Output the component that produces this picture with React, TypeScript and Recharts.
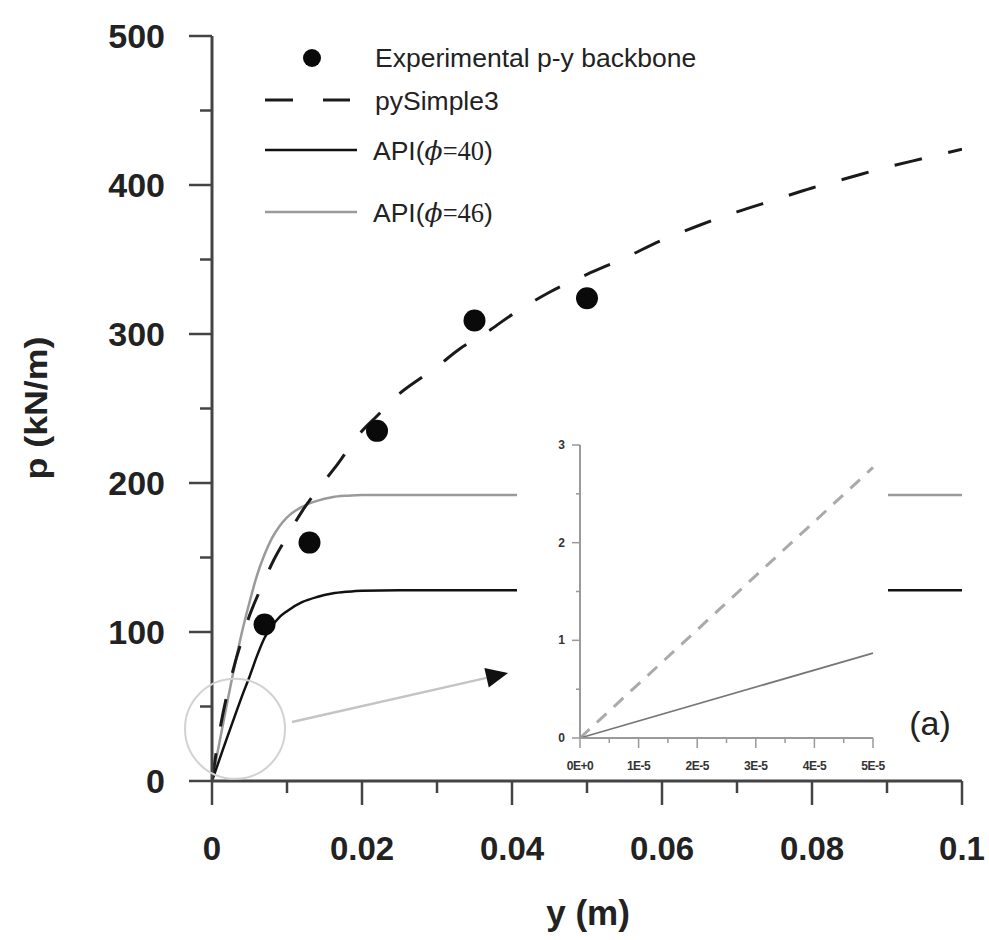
import React from 'react';
import {
  ComposedChart,
  LineChart,
  Line,
  Scatter,
  XAxis,
  YAxis,
  ReferenceDot,
  ReferenceLine,
} from 'recharts';

const FONT = '"Liberation Sans", Arial, Helvetica, sans-serif';

// ---- data ----
const expDisp = [0.007, 0.013, 0.022, 0.035, 0.05];
const expLoad = [105, 160, 235, 309, 324];

const simpleDisp = [0, 0.001, 0.002, 0.003, 0.004, 0.005, 0.0064, 0.0082, 0.01, 0.012, 0.014, 0.0168, 0.0195, 0.022, 0.025, 0.028, 0.03, 0.033, 0.036, 0.04, 0.045, 0.05, 0.055, 0.06, 0.065, 0.07, 0.075, 0.08, 0.085, 0.09, 0.095, 0.1];
const simpleLoad = [0, 33, 58, 78, 95, 111, 128, 148, 164, 181, 195, 213, 232, 245, 260, 271, 278, 290, 299, 313, 328, 340, 351, 363, 373, 382, 390, 398, 405, 412, 418, 424];

const api40Disp = [0, 0.001, 0.002, 0.003, 0.004, 0.005, 0.006, 0.007, 0.008, 0.009, 0.01, 0.012, 0.014, 0.016, 0.018, 0.02, 0.025, 0.03, 0.04, 0.05, 0.06, 0.07, 0.08, 0.09, 0.1];
const api40Load = [0, 14.5, 29, 43, 57, 70, 84, 96, 104, 110, 114, 120, 123.5, 125.8, 127, 127.7, 128, 128, 128, 128, 128, 128, 128, 128, 128];

const api46Disp = [0, 0.001, 0.002, 0.003, 0.004, 0.005, 0.006, 0.007, 0.008, 0.009, 0.01, 0.012, 0.014, 0.016, 0.018, 0.02, 0.025, 0.03, 0.04, 0.05, 0.06, 0.07, 0.08, 0.09, 0.1];
const api46Load = [0, 26, 52, 77, 100, 120, 138, 152, 163, 171, 177, 184, 188, 190.5, 191.5, 192, 192, 192, 192, 192, 192, 192, 192, 192, 192];

const insetDisp = [0, 0.00005];
const insetDashedLoad = [0, 2.77];
const insetSolidLoad = [0, 0.87];

const xTicks = [0, 0.01, 0.02, 0.03, 0.04, 0.05, 0.06, 0.07, 0.08, 0.09, 0.1];
const xTickLabels = ['0', '0.02', '0.04', '0.06', '0.08', '0.1'];
const yTicks = [0, 50, 100, 150, 200, 250, 300, 350, 400, 450, 500];

const insetXTicks = [0, 0.000005, 0.00001, 0.000015, 0.00002, 0.000025, 0.00003, 0.000035, 0.00004, 0.000045, 0.00005];
const insetXTickLabels = ['0E+0', '1E-5', '2E-5', '3E-5', '4E-5', '5E-5'];
const insetYTicks = [0, 0.5, 1, 1.5, 2, 2.5, 3];
const insetYTickLabels = ['0', '1', '2', '3'];

const legendItems = ['Experimental p-y backbone', 'pySimple3', 'API', 'API'];

// annotation positions (data coordinates)
const circleCenter = { y: 0.00307, p: 35 };
const arrowFrom = { y: 0.01067, p: 39.6 };
const arrowTo = { y: 0.03947, p: 72.5 };

const zip = (xs: number[], ys: number[]) => xs.map((x, i) => ({ y: x, p: ys[i] }));

const expData = zip(expDisp, expLoad);
const simpleData = zip(simpleDisp, simpleLoad);
const api40Data = zip(api40Disp, api40Load);
const api46Data = zip(api46Disp, api46Load);
const insetDashed = zip(insetDisp, insetDashedLoad);
const insetSolid = zip(insetDisp, insetSolidLoad);

const AXIS = '#444';

const MainYTick = (props: any) => {
  const { x, y, index } = props;
  const major = index % 2 === 0;
  return (
    <g>
      <line x1={x - (major ? 23 : 12)} x2={x} y1={y} y2={y} stroke={AXIS} strokeWidth={2.5} />
      {major && (
        <text x={x - 47} y={y} dy={12} textAnchor="end" fontFamily={FONT} fontWeight="bold" fontSize={34} fill="#222">
          {yTicks[index]}
        </text>
      )}
    </g>
  );
};

const MainXTick = (props: any) => {
  const { x, y, index } = props;
  const major = index % 2 === 0;
  return (
    <g>
      <line x1={x} x2={x} y1={y} y2={y + (major ? 24 : 12)} stroke={AXIS} strokeWidth={2.5} />
      {major && (
        <text x={x} y={y} dy={79} textAnchor="middle" fontFamily={FONT} fontWeight="bold" fontSize={33} fill="#222">
          {xTickLabels[index / 2]}
        </text>
      )}
    </g>
  );
};

const InsetYTick = (props: any) => {
  const { x, y, index } = props;
  const major = index % 2 === 0;
  return (
    <g>
      <line x1={x - (major ? 8 : 4)} x2={x} y1={y} y2={y} stroke="#999" strokeWidth={1.5} />
      {major && (
        <text x={x - 15} y={y} dy={4} textAnchor="end" fontFamily={FONT} fontWeight="bold" fontSize={12} fill="#333">
          {insetYTickLabels[index / 2]}
        </text>
      )}
    </g>
  );
};

const InsetXTick = (props: any) => {
  const { x, y, index } = props;
  const major = index % 2 === 0;
  return (
    <g>
      <line x1={x} x2={x} y1={y} y2={y + (major ? 10 : 5)} stroke="#999" strokeWidth={1.5} />
      {major && (
        <text x={x} y={y} dy={32} textAnchor="middle" fontFamily={FONT} fontWeight="bold" fontSize={12} fill="#333" letterSpacing={-0.5}>
          {insetXTickLabels[index / 2]}
        </text>
      )}
    </g>
  );
};

const ArrowShape = (props: any) => {
  const { x1, y1, x2, y2 } = props;
  if ([x1, y1, x2, y2].some((v) => typeof v !== 'number' || isNaN(v))) return null;
  const dx = x2 - x1;
  const dy = y2 - y1;
  const len = Math.sqrt(dx * dx + dy * dy);
  const ux = dx / len;
  const uy = dy / len;
  const head = 22;
  const half = 10;
  const bx = x2 - ux * head;
  const by = y2 - uy * head;
  const px = -uy;
  const py = ux;
  return (
    <g>
      <line x1={x1} y1={y1} x2={bx} y2={by} stroke="#c4c4c4" strokeWidth={2.5} />
      <polygon
        points={`${x2},${y2} ${bx + px * half},${by + py * half} ${bx - px * half},${by - py * half}`}
        fill="#111"
      />
    </g>
  );
};

const Dot = (props: any) => <circle cx={props.cx} cy={props.cy} r={11} fill="#0a0a0a" />;

const Phi = ({ n }: { n: string }) => (
  <>
    <tspan>API(</tspan>
    <tspan fontFamily='"DejaVu Serif", "Liberation Serif", serif' fontStyle="italic">ϕ</tspan>
    <tspan fontFamily='"Liberation Serif", "DejaVu Serif", serif'>={n}</tspan>
    <tspan>)</tspan>
  </>
);

const LEG = 26.5;

export default function App() {
  return (
    <div style={{ position: 'absolute', left: 0, top: 0, width: 989, height: 940, background: '#fff', fontFamily: FONT }}>
      <div style={{ position: 'absolute', left: 0, top: 0 }}>
        <ComposedChart width={989} height={940} margin={{ top: 36, right: 27, left: 92, bottom: 59 }}>
          <XAxis
            type="number"
            dataKey="y"
            domain={[0, 0.1]}
            ticks={xTicks}
            interval={0}
            height={100}
            tickSize={0}
            tickMargin={0}
            tick={<MainXTick />}
            tickLine={false}
            axisLine={{ stroke: AXIS, strokeWidth: 3 }}
            allowDataOverflow
          />
          <YAxis
            type="number"
            dataKey="p"
            domain={[0, 500]}
            ticks={yTicks}
            interval={0}
            width={120}
            tickSize={0}
            tickMargin={0}
            tick={<MainYTick />}
            tickLine={false}
            axisLine={{ stroke: AXIS, strokeWidth: 3 }}
            allowDataOverflow
          />
          <ReferenceDot
            x={circleCenter.y}
            y={circleCenter.p}
            r={50}
            fill="none"
            stroke="#d2d2d2"
            strokeWidth={2}
            ifOverflow="visible"
          />
          <ReferenceLine
            segment={[
              { x: arrowFrom.y, y: arrowFrom.p },
              { x: arrowTo.y, y: arrowTo.p },
            ]}
            shape={ArrowShape}
            ifOverflow="visible"
          />
          <Line
            data={api46Data}
            dataKey="p"
            type="monotone"
            stroke="#9a9a9a"
            strokeWidth={2.5}
            dot={false}
            activeDot={false}
            isAnimationActive={false}
          />
          <Line
            data={api40Data}
            dataKey="p"
            type="monotone"
            stroke="#111"
            strokeWidth={2.5}
            dot={false}
            activeDot={false}
            isAnimationActive={false}
          />
          <Line
            data={simpleData}
            dataKey="p"
            type="monotone"
            stroke="#1a1a1a"
            strokeWidth={3}
            strokeDasharray="28 27"
            dot={false}
            activeDot={false}
            isAnimationActive={false}
          />
          <Scatter data={expData} dataKey="p" shape={Dot} isAnimationActive={false} />
        </ComposedChart>
      </div>

      <div style={{ position: 'absolute', left: 517, top: 425, width: 371, height: 350, background: '#fff' }}>
        <LineChart width={371} height={350} margin={{ top: 20, right: 15, left: 23, bottom: 7 }}>
          <XAxis
            type="number"
            dataKey="y"
            domain={[0, 0.00005]}
            ticks={insetXTicks}
            interval={0}
            height={30}
            tickSize={0}
            tickMargin={0}
            tick={<InsetXTick />}
            tickLine={false}
            axisLine={{ stroke: '#9a9a9a', strokeWidth: 2 }}
          />
          <YAxis
            type="number"
            domain={[0, 3]}
            ticks={insetYTicks}
            interval={0}
            width={40}
            tickSize={0}
            tickMargin={0}
            tick={<InsetYTick />}
            tickLine={false}
            axisLine={{ stroke: '#9a9a9a', strokeWidth: 2 }}
          />
          <Line
            data={insetDashed}
            dataKey="p"
            type="linear"
            stroke="#aaaaaa"
            strokeWidth={3}
            strokeDasharray="13 10"
            dot={false}
            activeDot={false}
            isAnimationActive={false}
          />
          <Line
            data={insetSolid}
            dataKey="p"
            type="linear"
            stroke="#777"
            strokeWidth={1.8}
            dot={false}
            activeDot={false}
            isAnimationActive={false}
          />
        </LineChart>
      </div>

      <svg width={989} height={940} style={{ position: 'absolute', left: 0, top: 0, pointerEvents: 'none' }}>
        {/* legend */}
        <circle cx={312} cy={58} r={9} fill="#0a0a0a" />
        <text x={375} y={67} fontFamily={FONT} fontSize={LEG} fill="#222">{legendItems[0]}</text>
        <line x1={265} x2={293} y1={100} y2={100} stroke="#1a1a1a" strokeWidth={3} />
        <line x1={323} x2={350} y1={100} y2={100} stroke="#1a1a1a" strokeWidth={3} />
        <text x={375} y={110} fontFamily={FONT} fontSize={LEG} fill="#222">{legendItems[1]}</text>
        <line x1={265} x2={357} y1={150} y2={150} stroke="#111" strokeWidth={2.5} />
        <text x={373} y={160} fontFamily={FONT} fontSize={LEG} fill="#222"><Phi n="40" /></text>
        <line x1={265} x2={357} y1={212} y2={212} stroke="#9a9a9a" strokeWidth={2.5} />
        <text x={373} y={222} fontFamily={FONT} fontSize={LEG} fill="#222"><Phi n="46" /></text>

        {/* panel label */}
        <text x={930} y={735} textAnchor="middle" fontFamily={FONT} fontSize={34} fill="#222">(a)</text>

        {/* axis titles */}
        <text x={588} y={925} textAnchor="middle" fontFamily={FONT} fontWeight="bold" fontSize={35} fill="#222">y (m)</text>
        <text
          x={47}
          y={408}
          transform="rotate(-90 47 408)"
          textAnchor="middle"
          fontFamily={FONT}
          fontWeight="bold"
          fontSize={31}
          fill="#222"
          textLength={143}
          lengthAdjust="spacingAndGlyphs"
        >
          p (kN/m)
        </text>
      </svg>
    </div>
  );
}
